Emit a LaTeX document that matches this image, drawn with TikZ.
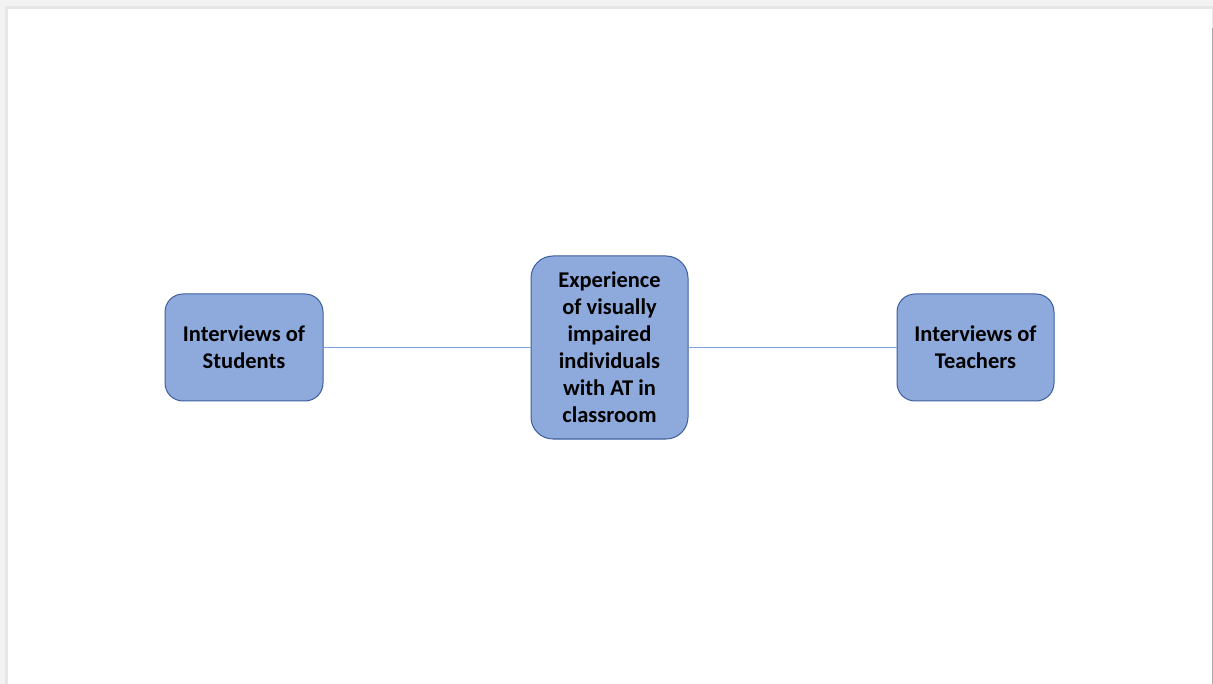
\documentclass[tikz,border=0pt]{standalone}
\usepackage{fontspec}
\setmainfont{Carlito}
\definecolor{boxfill}{HTML}{8EA9DB}
\definecolor{boxdraw}{HTML}{3D5E9E}
\definecolor{linkc}{HTML}{7EA0E0}
\definecolor{bgray}{HTML}{F2F2F2}
\definecolor{edgegray}{HTML}{E6E6E6}
\begin{document}
\begin{tikzpicture}[x=1pt,y=-1pt,
  box/.style={draw=boxdraw, fill=boxfill, line width=1pt, rounded corners=18pt,
    align=center, font=\fontsize{22.5}{27}\selectfont\bfseries, inner sep=0pt},
  link/.style={draw=linkc, line width=0.9pt}]
\useasboundingbox (0,0) rectangle (1213,684);
\fill[bgray] (0,0) rectangle (1213,684);
\fill[edgegray] (5,6) rectangle (1213,684);
\fill[white] (8,9) rectangle (1212,684);
\fill[gray!70] (1212,28) rectangle (1213,684);
\node[box, minimum width=158pt, minimum height=107pt] (stu) at (244,347.5) {Interviews of\\Students};
\node[box, minimum width=157pt, minimum height=183pt, rounded corners=22pt] (exp) at (609.5,347.5) {Experience\\of visually\\impaired\\individuals\\with AT in\\classroom};
\node[box, minimum width=157pt, minimum height=107pt] (tea) at (975.5,347.5) {Interviews of\\Teachers};
\draw[link] (stu.east) -- (exp.west);
\draw[link] (exp.east) -- (tea.west);
\end{tikzpicture}
\end{document}
